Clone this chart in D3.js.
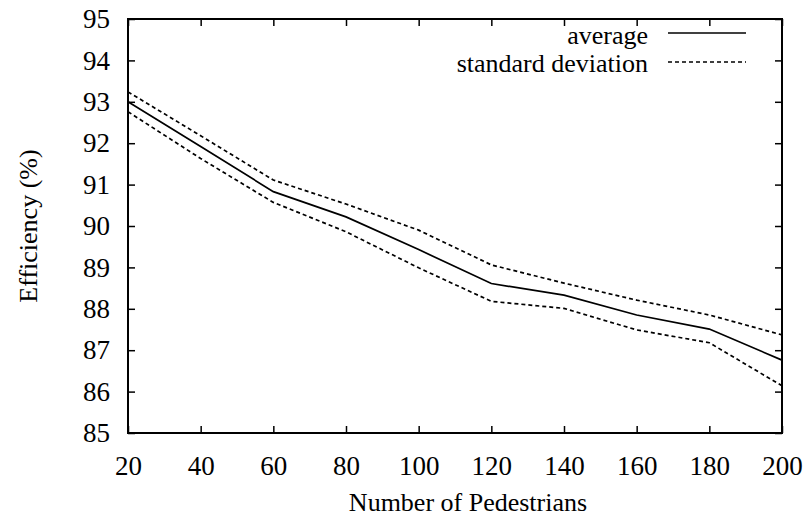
<!DOCTYPE html>
<html>
<head>
<meta charset="utf-8">
<script src="https://cdn.jsdelivr.net/npm/d3@7"></script>
<style>
  body { margin: 0; background: #fff; }
  svg text { font-family: "Liberation Serif", "Times New Roman", serif; fill: #000; }
</style>
</head>
<body>
<svg width="809" height="517"></svg>
<script>
// data
const pedestrians = [20, 40, 60, 80, 100, 120, 140, 160, 180, 200];
const average = [93.0, 91.92, 90.83, 90.22, 89.43, 88.61, 88.33, 87.85, 87.51, 86.76];
const upperDev = [93.24, 92.18, 91.11, 90.53, 89.9, 89.06, 88.62, 88.21, 87.85, 87.37];
const lowerDev = [92.76, 91.63, 90.57, 89.86, 88.99, 88.18, 88.01, 87.49, 87.18, 86.14];
const xTicks = [20, 40, 60, 80, 100, 120, 140, 160, 180, 200];
const yTicks = [85, 86, 87, 88, 89, 90, 91, 92, 93, 94, 95];

const svg = d3.select("svg");
const plotL = 128, plotR = 782, plotT = 19, plotB = 433;

const x = d3.scaleLinear().domain([20, 200]).range([plotL, plotR]);
const y = d3.scaleLinear().domain([85, 95]).range([plotB, plotT]);

// ticks pointing inward on all four sides
const tickLen = 7;
const xAxisB = d3.axisBottom(x).tickValues(xTicks).tickSize(-tickLen).tickPadding(23);
const xAxisT = d3.axisTop(x).tickValues(xTicks).tickSize(-tickLen).tickFormat("");
const yAxisL = d3.axisLeft(y).tickValues(yTicks).tickSize(-tickLen).tickPadding(18);
const yAxisR = d3.axisRight(y).tickValues(yTicks).tickSize(-tickLen).tickFormat("");

function styleAxis(g) {
    g.select(".domain").remove();
    g.selectAll(".tick line").attr("stroke", "#000").attr("stroke-width", 1.5);
    g.selectAll(".tick text").attr("font-size", "27px").attr("font-family", "Liberation Serif");
}

svg.append("g").attr("transform", `translate(0,${plotB})`).call(xAxisB).call(styleAxis);
svg.append("g").attr("transform", `translate(0,${plotT})`).call(xAxisT).call(styleAxis);
svg.append("g").attr("transform", `translate(${plotL},0)`).call(yAxisL).call(styleAxis);
svg.append("g").attr("transform", `translate(${plotR},0)`).call(yAxisR).call(styleAxis);

svg.append("rect")
    .attr("x", plotL).attr("y", plotT)
    .attr("width", plotR - plotL).attr("height", plotB - plotT)
    .attr("fill", "none").attr("stroke", "#000").attr("stroke-width", 2);

const line = d3.line()
    .x((d, i) => x(pedestrians[i]))
    .y(d => y(d));

svg.append("path").datum(average)
    .attr("d", line).attr("fill", "none")
    .attr("stroke", "#000").attr("stroke-width", 1.7);

[upperDev, lowerDev].forEach(s => {
    svg.append("path").datum(s)
        .attr("d", line).attr("fill", "none")
        .attr("stroke", "#000").attr("stroke-width", 1.7)
        .attr("stroke-dasharray", "4,3");
});

// legend
const legend = [
    { label: "average", dash: null, ty: 44, ly: 33 },
    { label: "standard deviation", dash: "4,3", ty: 72, ly: 62 }
];
legend.forEach(l => {
    svg.append("text")
        .attr("x", 648).attr("y", l.ty)
        .attr("text-anchor", "end")
        .attr("font-size", "26px")
        .text(l.label);
    svg.append("line")
        .attr("x1", 668).attr("x2", 746)
        .attr("y1", l.ly).attr("y2", l.ly)
        .attr("stroke", "#000").attr("stroke-width", 1.6)
        .attr("stroke-dasharray", l.dash);
});

// axis titles
svg.append("text")
    .attr("x", 468).attr("y", 511)
    .attr("text-anchor", "middle")
    .attr("font-size", "26px")
    .text("Number of Pedestrians");

svg.append("text")
    .attr("transform", `translate(37,${(plotT + plotB) / 2}) rotate(-90)`)
    .attr("text-anchor", "middle")
    .attr("font-size", "26px")
    .text("Efficiency (%)");
</script>
</body>
</html>
